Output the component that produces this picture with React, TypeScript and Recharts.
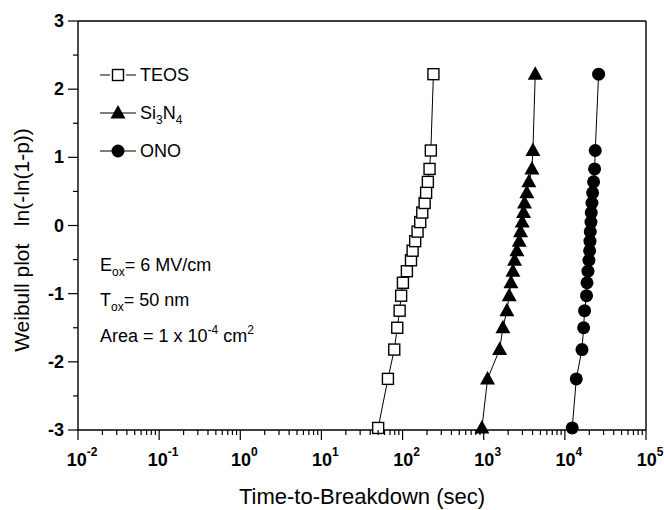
import React from "react";
import {
  ScatterChart,
  Scatter,
  XAxis,
  YAxis,
  ReferenceLine,
  Customized,
} from "recharts";

// Weibull plotting positions (same for all three films)
const weibullY = [
  -2.97, -2.25, -1.82, -1.5, -1.25, -1.03, -0.84, -0.67, -0.51, -0.37,
  -0.23, -0.09, 0.05, 0.19, 0.33, 0.48, 0.64, 0.83, 1.1, 2.22,
];

// time-to-breakdown (sec)
const teosT = [50, 66, 79, 86, 92, 96, 101, 113, 127, 133, 143, 153, 165, 175, 187, 195, 205, 215, 223, 240];
const si3n4T = [950, 1115, 1570, 1725, 1930, 2060, 2165, 2290, 2400, 2565, 2740, 2845, 2985, 3100, 3185, 3400, 3600, 3925, 4040, 4315];
const onoT = [12330, 13830, 16250, 17030, 17500, 18500, 18740, 19260, 19800, 20200, 20400, 20570, 20980, 21150, 21570, 21980, 22600, 23250, 23700, 26060];

const xMajor = [0.01, 0.1, 1, 10, 100, 1000, 10000, 100000];
const yTicks = [-3, -2.5, -2, -1.5, -1, -0.5, 0, 0.5, 1, 1.5, 2, 2.5, 3];

const toPoints = (ts: number[]) => ts.map((t, i) => ({ t, w: weibullY[i] }));
const teos = toPoints(teosT);
const si3n4 = toPoints(si3n4T);
const ono = toPoints(onoT);

// log ticks: majors plus 2..9 in every decade
const xTicks: number[] = [];
xMajor.forEach((m, i) => {
  xTicks.push(m);
  if (i < xMajor.length - 1) for (let k = 2; k < 10; k++) xTicks.push(+(m * k).toPrecision(3));
});

const FONT = "'Liberation Sans', Arial, sans-serif";

const Square = (p: any) => (
  <rect x={p.cx - 5.5} y={p.cy - 5.5} width={11} height={11} fill="#fff" stroke="#000" strokeWidth={1.4} />
);
const Triangle = (p: any) => (
  <polygon points={`${p.cx},${p.cy - 8} ${p.cx - 7.5},${p.cy + 5.5} ${p.cx + 7.5},${p.cy + 5.5}`} fill="#000" />
);
const Dot = (p: any) => <circle cx={p.cx} cy={p.cy} r={6.5} fill="#000" />;

const XTick = (props: any) => {
  const { x, y, payload } = props;
  const lg = Math.log10(payload.value);
  const e = Math.round(lg);
  const major = Math.abs(lg - e) < 1e-6;
  return (
    <g>
      <line x1={x} x2={x} y1={y} y2={y + (major ? 10 : 5)} stroke="#000" strokeWidth={1.2} />
      {major && (
        <text x={x + 4} y={y + 36} textAnchor="middle" fontFamily={FONT} fontWeight="bold" fontSize={18} fill="#000">
          10
          <tspan dy={-10} fontSize={12}>{e}</tspan>
        </text>
      )}
    </g>
  );
};

const YTick = (props: any) => {
  const { x, y, payload } = props;
  const v = payload.value;
  const major = Number.isInteger(v);
  return (
    <g>
      <line x1={x - (major ? 10 : 5)} x2={x} y1={y} y2={y} stroke="#000" strokeWidth={1.2} />
      {major && (
        <text x={x - 14} y={y + 6} textAnchor="end" fontFamily={FONT} fontWeight="bold" fontSize={18} fill="#000">
          {v}
        </text>
      )}
    </g>
  );
};

const Notes = () => (
  <g fontFamily={FONT} fill="#000" fontSize={18}>
    <line x1={100} x2={110} y1={75} y2={75} stroke="#000" />
    <line x1={126} x2={136} y1={75} y2={75} stroke="#000" />
    <rect x={112.5} y={69.5} width={11} height={11} fill="#fff" stroke="#000" strokeWidth={1.4} />
    <text x={140} y={81}>TEOS</text>
    <line x1={100} x2={136} y1={113} y2={113} stroke="#000" />
    <polygon points="118,105 110.5,118.5 125.5,118.5" fill="#000" />
    <text x={140} y={119}>
      Si<tspan dy={5} fontSize={12}>3</tspan>
      <tspan dy={-5}>N</tspan>
      <tspan dy={5} fontSize={12}>4</tspan>
    </text>
    <line x1={100} x2={136} y1={151} y2={151} stroke="#000" />
    <circle cx={118} cy={151} r={6.5} fill="#000" />
    <text x={140} y={157}>ONO</text>

    <text x={100} y={271}>
      E<tspan dy={5} fontSize={12}>ox</tspan>
      <tspan dy={-5}>= 6 MV/cm</tspan>
    </text>
    <text x={100} y={306}>
      T<tspan dy={5} fontSize={12}>ox</tspan>
      <tspan dy={-5}>= 50 nm</tspan>
    </text>
    <text x={100} y={342}>
      Area = 1 x 10<tspan dy={-8} fontSize={12}>-4</tspan>
      <tspan dy={8}> cm</tspan>
      <tspan dy={-8} fontSize={12}>2</tspan>
    </text>

    <text x={362} y={504} textAnchor="middle" fontSize={22}>Time-to-Breakdown (sec)</text>
    <text x={29} y={240} textAnchor="middle" fontSize={21} transform="rotate(-90 29 240)">
      Weibull plot{"\u00a0\u00a0\u00a0"}ln(-ln(1-p))
    </text>
  </g>
);

const WeibullChart = () => {
  return (
    <div style={{ position: "absolute", left: 0, top: 0, background: "#fff" }}>
      <ScatterChart width={664} height={510} margin={{ top: 21, right: 18, left: 0, bottom: 0 }}>
        <XAxis
          dataKey="t"
          type="number"
          scale="log"
          domain={[0.01, 100000]}
          allowDataOverflow
          ticks={xTicks}
          interval={0}
          tickSize={0}
          tickMargin={0}
          tick={<XTick />}
          height={80}
          axisLine={{ stroke: "#000", strokeWidth: 1.4 }}
        />
        <YAxis
          dataKey="w"
          type="number"
          domain={[-3, 3]}
          ticks={yTicks}
          interval={0}
          tickSize={0}
          tickMargin={0}
          tick={<YTick />}
          width={78}
          axisLine={{ stroke: "#000", strokeWidth: 1.4 }}
        />
        <ReferenceLine y={3} stroke="#000" strokeWidth={1.4} />
        <ReferenceLine x={100000} stroke="#000" strokeWidth={1.4} />
        <Scatter data={teos} line={{ stroke: "#000", strokeWidth: 1 }} lineType="joint" shape={<Square />} isAnimationActive={false} />
        <Scatter data={si3n4} line={{ stroke: "#000", strokeWidth: 1 }} lineType="joint" shape={<Triangle />} isAnimationActive={false} />
        <Scatter data={ono} line={{ stroke: "#000", strokeWidth: 1 }} lineType="joint" shape={<Dot />} isAnimationActive={false} />
        <Customized component={<Notes />} />
      </ScatterChart>
    </div>
  );
};

export default WeibullChart;
